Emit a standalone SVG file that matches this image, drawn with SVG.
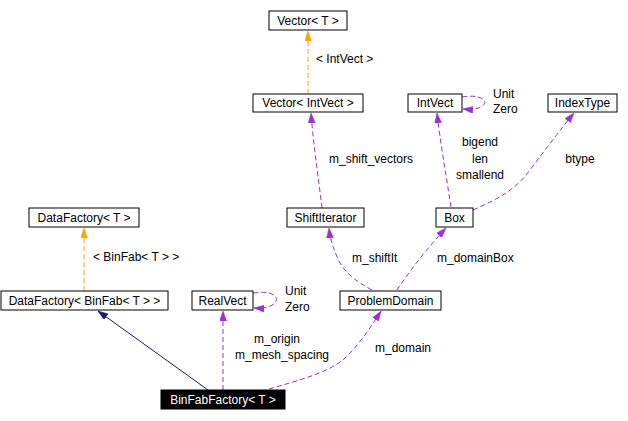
<svg xmlns="http://www.w3.org/2000/svg" width="628" height="421" viewBox="0 0 628 421">
<style>
  text { font-family: "Liberation Sans", Arial, sans-serif; font-size: 12px; fill: #000; }
  .node rect { fill: #fff; stroke: #000; stroke-width: 1; }
  .node text { text-anchor: middle; }
  .usage { fill: none; stroke: #9a32cd; stroke-width: 1; stroke-dasharray: 5,3; }
  .tmpl { fill: none; stroke: #ffa500; stroke-width: 1; stroke-dasharray: 5,3; }
  .inh { fill: none; stroke: #191970; stroke-width: 1; }
  .lbl { text-anchor: middle; }
</style>
<defs>
  <marker id="aP" markerUnits="userSpaceOnUse" markerWidth="11" markerHeight="8" refX="10" refY="3.5" orient="auto">
    <path d="M0,0 L10,3.5 L0,7 z" fill="#9a32cd" stroke="#9a32cd" stroke-width="0.5"/>
  </marker>
  <marker id="aO" markerUnits="userSpaceOnUse" markerWidth="11" markerHeight="8" refX="10" refY="3.5" orient="auto">
    <path d="M0,0 L10,3.5 L0,7 z" fill="#ffa500" stroke="#ffa500" stroke-width="0.5"/>
  </marker>
  <marker id="aN" markerUnits="userSpaceOnUse" markerWidth="11" markerHeight="8" refX="10" refY="3.5" orient="auto">
    <path d="M0,0 L10,3.5 L0,7 z" fill="#191970" stroke="#191970" stroke-width="0.5"/>
  </marker>
</defs>

<g id="connectors">
  <path class="tmpl" d="M308,94 L308,31" marker-end="url(#aO)"/>
  <text x="316" y="63">&lt; IntVect &gt;</text>
  <path class="tmpl" d="M84,291 L84,228" marker-end="url(#aO)"/>
  <text x="93" y="261">&lt; BinFab&lt; T &gt; &gt;</text>
  <path class="inh" d="M208,390 L98,311" marker-end="url(#aN)"/>
  <path class="usage" d="M223,390 L223,311" marker-end="url(#aP)"/>
  <text class="lbl" x="277" y="343">m_origin</text>
  <text class="lbl" x="282" y="359">m_mesh_spacing</text>
  <path class="usage" d="M253,293 C284,288 284,310 254,308" marker-end="url(#aP)"/>
  <text x="285" y="295">Unit</text>
  <text x="285" y="311">Zero</text>
  <path class="usage" d="M269,389 C300,380 330,372 345,358 C360,344 372,325 381,311" marker-end="url(#aP)"/>
  <text x="375" y="352">m_domain</text>
  <path class="usage" d="M372,290 C355,281 343,271 338,259 C333,248 330,238 329,228" marker-end="url(#aP)"/>
  <text x="352" y="262">m_shiftIt</text>
  <path class="usage" d="M397,290 C410,270 430,245 446,228" marker-end="url(#aP)"/>
  <text x="437" y="262">m_domainBox</text>
  <path class="usage" d="M322,208 C318,175 313,140 311,113" marker-end="url(#aP)"/>
  <text x="329" y="163">m_shift_vectors</text>
  <path class="usage" d="M451,207 C446,175 440,140 437,113" marker-end="url(#aP)"/>
  <text class="lbl" x="480" y="146">bigend</text>
  <text class="lbl" x="480" y="163">len</text>
  <text class="lbl" x="480" y="179">smallend</text>
  <path class="usage" d="M473,210 C500,198 515,190 530,170 C545,150 560,130 574,113" marker-end="url(#aP)"/>
  <text class="lbl" x="580" y="163">btype</text>
  <path class="usage" d="M462,97 C492,92 492,112 463,109" marker-end="url(#aP)"/>
  <text x="493" y="98">Unit</text>
  <text x="493" y="113">Zero</text>
</g>

<g id="vector_t" class="node"><rect x="269" y="11" width="78" height="19"/><text x="308" y="25">Vector&lt; T &gt;</text></g>
<g id="vector_intvect" class="node"><rect x="253" y="94" width="110" height="18"/><text x="308" y="107">Vector&lt; IntVect &gt;</text></g>
<g id="intvect" class="node"><rect x="408" y="94" width="54" height="18"/><text x="435" y="107">IntVect</text></g>
<g id="indextype" class="node"><rect x="548" y="94" width="69" height="18"/><text x="582.5" y="107">IndexType</text></g>
<g id="shiftiterator" class="node"><rect x="287" y="208" width="77" height="19"/><text x="325.5" y="222">ShiftIterator</text></g>
<g id="box" class="node"><rect x="436" y="208" width="37" height="19"/><text x="454.5" y="222">Box</text></g>
<g id="datafactory_t" class="node"><rect x="29" y="208" width="110" height="19"/><text x="84" y="222">DataFactory&lt; T &gt;</text></g>
<g id="datafactory_binfab" class="node"><rect x="1" y="291" width="167" height="19"/><text x="84.5" y="305">DataFactory&lt; BinFab&lt; T &gt; &gt;</text></g>
<g id="realvect" class="node"><rect x="192" y="291" width="61" height="19"/><text x="222.5" y="305">RealVect</text></g>
<g id="problemdomain" class="node"><rect x="340" y="291" width="101" height="19"/><text x="390.5" y="305">ProblemDomain</text></g>
<g id="binfabfactory"><rect x="161" y="390" width="124" height="19" fill="#000" stroke="#000"/><text x="223" y="404" style="fill:#fff;text-anchor:middle">BinFabFactory&lt; T &gt;</text></g>
</svg>
